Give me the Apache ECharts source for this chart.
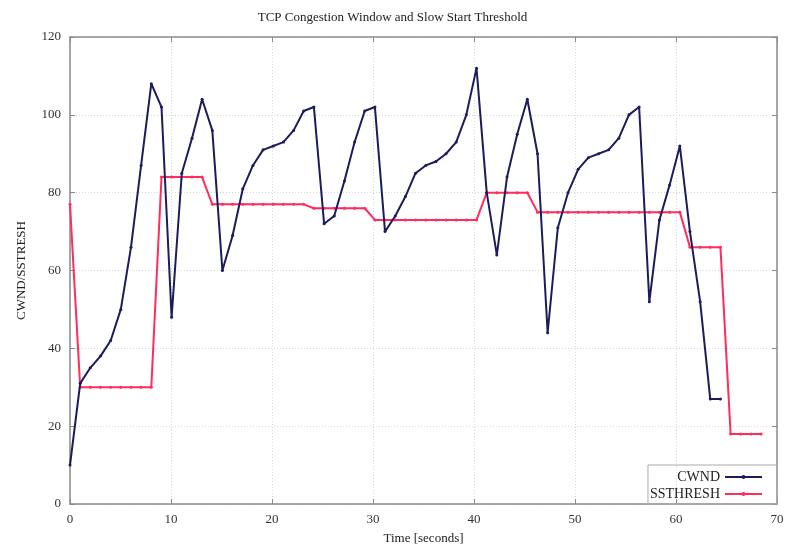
<!DOCTYPE html>
<html>
<head>
<meta charset="utf-8">
<script src="https://cdn.jsdelivr.net/npm/echarts@6/dist/echarts.min.js"></script>
<style>html,body{margin:0;padding:0;background:#fff}#c{width:785px;height:545px}</style>
</head>
<body>
<div id="c"></div>
<script>
const times = [0,1.01,2.01,3.02,4.03,5.03,6.04,7.04,8.05,9.06,10.06,11.07,12.08,13.08,14.09,15.09,16.1,17.11,18.11,19.12,20.13,21.13,22.14,23.14,24.15,25.16,26.16,27.17,28.18,29.18,30.19,31.19,32.2,33.21,34.21,35.22,36.23,37.23,38.24,39.24,40.25,41.26,42.26,43.27,44.28,45.28,46.29,47.29,48.3,49.31,50.31,51.32,52.33,53.33,54.34,55.34,56.35,57.36,58.36,59.37,60.38,61.38,62.39,63.39,64.4,65.41,66.41,67.42,68.43];
const cwnd = [10,31,35,38,42,50,66,87,108,102,48,85,94,104,96,60,69,81,87,91,92,93,96,101,102,72,74,83,93,101,102,70,74,79,85,87,88,90,93,100,112,80,64,84,95,104,90,44,71,80,86,89,90,91,94,100,102,52,73,82,92,70,52,27,27];
const ssthresh = [77,30,30,30,30,30,30,30,30,84,84,84,84,84,77,77,77,77,77,77,77,77,77,77,76,76,76,76,76,76,73,73,73,73,73,73,73,73,73,73,73,80,80,80,80,80,75,75,75,75,75,75,75,75,75,75,75,75,75,75,75,66,66,66,66,18,18,18,18];
const xTicks = [0,10,20,30,40,50,60,70];
const yTicks = [0,20,40,60,80,100,120];

const serif = "'Liberation Serif','DejaVu Serif',serif";
const axisGray = '#8a8a8a';
const chart = echarts.init(document.getElementById('c'), null, {renderer:'canvas'});
const pair = (vals) => vals.map((v,i) => [times[i], v]);
const xCommon = {type:'value', min:xTicks[0], max:xTicks[xTicks.length-1], interval:10};
const yCommon = {type:'value', min:yTicks[0], max:yTicks[yTicks.length-1], interval:20};
chart.setOption({
  animation:false,
  backgroundColor:'#fff',
  title:{text:'TCP Congestion Window and Slow Start Threshold', left:'center', top:6,
    textStyle:{fontFamily:serif, fontSize:13, fontWeight:'normal', color:'#222'}},
  grid:{left:70, right:8, top:37, bottom:41, show:false, containLabel:false, outerBoundsMode:'none'},
  legend:{
    right:8, bottom:41, orient:'vertical', align:'right',
    itemWidth:37, itemHeight:5, itemGap:3,
    padding:[5,14,3,2],
    borderColor:'#aaa', borderWidth:1, borderRadius:0,
    textStyle:{fontFamily:serif, fontSize:14, color:'#222', width:70, align:'right'},
    data:['CWND','SSTHRESH']
  },
  xAxis:[
    Object.assign({}, xCommon, {position:'bottom', name:'Time [seconds]', nameLocation:'middle', nameGap:28,
      nameTextStyle:{fontFamily:serif, fontSize:13, color:'#222'},
      axisLine:{show:true, onZero:false, lineStyle:{color:axisGray, width:1.5}},
      axisTick:{show:true, inside:true, length:5, lineStyle:{color:axisGray}},
      axisLabel:{fontFamily:serif, fontSize:13, color:'#333', margin:9},
      splitLine:{show:true, lineStyle:{color:'#d8d8d8', type:[1,2], width:1}}}),
    Object.assign({}, xCommon, {position:'top',
      axisLine:{show:true, onZero:false, lineStyle:{color:axisGray, width:1.5}},
      axisTick:{show:true, inside:true, length:5, lineStyle:{color:axisGray}},
      axisLabel:{show:false}, splitLine:{show:false}})
  ],
  yAxis:[
    Object.assign({}, yCommon, {position:'left', name:'CWND/SSTRESH', nameLocation:'middle', nameGap:42,
      nameTextStyle:{fontFamily:serif, fontSize:13, color:'#222'},
      axisLine:{show:true, onZero:false, lineStyle:{color:axisGray, width:1.5}},
      axisTick:{show:true, inside:true, length:5, lineStyle:{color:axisGray}},
      axisLabel:{fontFamily:serif, fontSize:13, color:'#333', margin:9},
      splitLine:{show:true, lineStyle:{color:'#d8d8d8', type:[1,2], width:1}}}),
    Object.assign({}, yCommon, {position:'right',
      axisLine:{show:true, onZero:false, lineStyle:{color:axisGray, width:1.5}},
      axisTick:{show:true, inside:true, length:5, lineStyle:{color:axisGray}},
      axisLabel:{show:false}, splitLine:{show:false}})
  ],
  series:[
    {name:'CWND', type:'line', data:pair(cwnd), xAxisIndex:0, yAxisIndex:0,
      color:'#1c1c5c', lineStyle:{width:2, color:'#1c1c5c'},
      symbol:'circle', symbolSize:3, showAllSymbol:true, itemStyle:{color:'#1c1c5c'}, z:3},
    {name:'SSTHRESH', type:'line', data:pair(ssthresh), xAxisIndex:0, yAxisIndex:0,
      color:'#ff2d5c', lineStyle:{width:2, color:'#ff2d5c'},
      symbol:'circle', symbolSize:3, showAllSymbol:true, itemStyle:{color:'#ff2d5c'}, z:2}
  ]
});
</script>
</body>
</html>
